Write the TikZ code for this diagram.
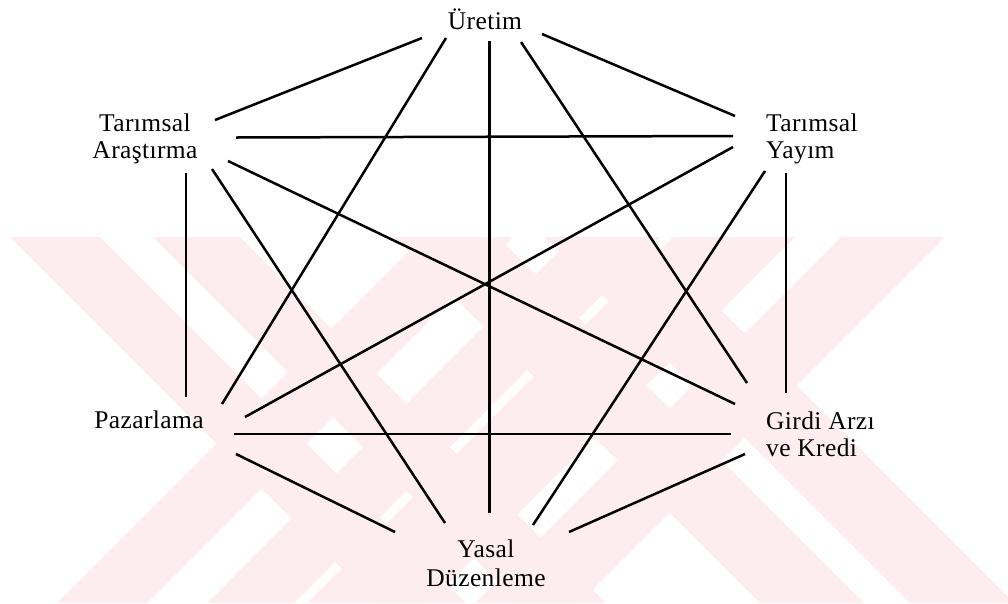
\documentclass[tikz,border=0pt]{standalone}
\usepackage{fontspec}
\setmainfont{Liberation Serif}[LetterSpace=1.5]
\newcommand\LblC[3]{\vtop{\baselineskip=#3\relax\halign{\hfil##\hfil\cr#1\cr#2\cr}}}
\newcommand\LblL[3]{\vtop{\baselineskip=#3\relax\halign{##\hfil\cr#1\cr#2\cr}}}
\definecolor{wm}{RGB}{253,237,240}
\begin{document}
\begin{tikzpicture}[x=1pt,y=-1pt,
  lbl/.style={inner sep=0pt, font=\fontsize{25.5}{27}\selectfont},
  link/.style={line width=2.5pt},
  vlink/.style={line width=2.1pt},
  mark band/.style={fill=wm, draw=none}]
\useasboundingbox (0,0) rectangle (1008,603);
% watermark: two crossed double bands
\begin{scope}
\clip (0,237) rectangle (1008,603);
% left X
\fill[mark band] (10,237) -- (100,237) -- (466,603) -- (376,603) -- cycle;
\fill[mark band] (153,237) -- (240,237) -- (606,603) -- (519,603) -- cycle;
\fill[mark band] (423,237) -- (513,237) -- (147,603) -- (57,603) -- cycle;
\fill[mark band] (573,237) -- (660,237) -- (294,603) -- (207,603) -- cycle;
% right X
\fill[mark band] (841,237) -- (945,237) -- (579,603) -- (475,603) -- cycle;
\fill[mark band] (673,237) -- (795,237) -- (429,603) -- (307,603) -- cycle;
\fill[mark band] (544,237) -- (648,237) -- (1014,603) -- (910,603) -- cycle;
\fill[mark band] (394,237) -- (498,237) -- (864,603) -- (760,603) -- cycle;
\end{scope}
% labels
\node[lbl, anchor=base] (ur) at (485,29.3) {Üretim};
\node[lbl, anchor=base] (ta) at (145,131.5) {\LblC{Tarımsal}{Araştırma}{27pt}};
\node[lbl, anchor=base west] (ty) at (766,131) {\LblL{Tarımsal}{Yayım}{27.5pt}};
\node[lbl, anchor=base] (pz) at (149,428.3) {Pazarlama};
\node[lbl, anchor=base west] (gk) at (766,429.3) {\LblL{Girdi Arzı}{ve Kredi}{27.4pt}};
\node[lbl, anchor=base] (yd) at (486,557.3) {\LblC{Yasal}{Düzenleme}{29.3pt}};
% connector ends
\coordinate (ur-ta) at (422,38);   \coordinate (ta-ur) at (215,120);
\coordinate (ur-pz) at (446,38);   \coordinate (pz-ur) at (222,404);
\coordinate (ur-yd) at (489.5,41); \coordinate (yd-ur) at (489.5,513);
\coordinate (ur-gk) at (521,42);   \coordinate (gk-ur) at (747,383);
\coordinate (ur-ty) at (542,34);   \coordinate (ty-ur) at (735,116);
\coordinate (ta-ty) at (236,137.5);\coordinate (ty-ta) at (733,136);
\coordinate (ta-gk) at (228,161);  \coordinate (gk-ta) at (735,404);
\coordinate (ta-yd) at (212,169);  \coordinate (yd-ta) at (445,523);
\coordinate (ta-pz) at (186,173);  \coordinate (pz-ta) at (186,397);
\coordinate (ty-pz) at (733,147);  \coordinate (pz-ty) at (245,417);
\coordinate (ty-yd) at (765,171);  \coordinate (yd-ty) at (533,525);
\coordinate (ty-gk) at (786,173);  \coordinate (gk-ty) at (786,393);
\coordinate (pz-gk) at (234,434);  \coordinate (gk-pz) at (731,434);
\coordinate (pz-yd) at (236,454);  \coordinate (yd-pz) at (395,532);
\coordinate (gk-yd) at (745,454);  \coordinate (yd-gk) at (569,532);
% connectors
\draw[link] (ur-ta) -- (ta-ur);
\draw[link] (ur-pz) -- (pz-ur);
\draw[vlink] (ur-yd) -- (yd-ur);
\draw[link] (ur-gk) -- (gk-ur);
\draw[link] (ur-ty) -- (ty-ur);
\draw[link] (ta-ty) -- (ty-ta);
\draw[link] (ta-gk) -- (gk-ta);
\draw[link] (ta-yd) -- (yd-ta);
\draw[vlink] (ta-pz) -- (pz-ta);
\draw[link] (ty-pz) -- (pz-ty);
\draw[link] (ty-yd) -- (yd-ty);
\draw[vlink] (ty-gk) -- (gk-ty);
\draw[link] (pz-gk) -- (gk-pz);
\draw[link] (pz-yd) -- (yd-pz);
\draw[link] (gk-yd) -- (yd-gk);
\end{tikzpicture}
\end{document}
